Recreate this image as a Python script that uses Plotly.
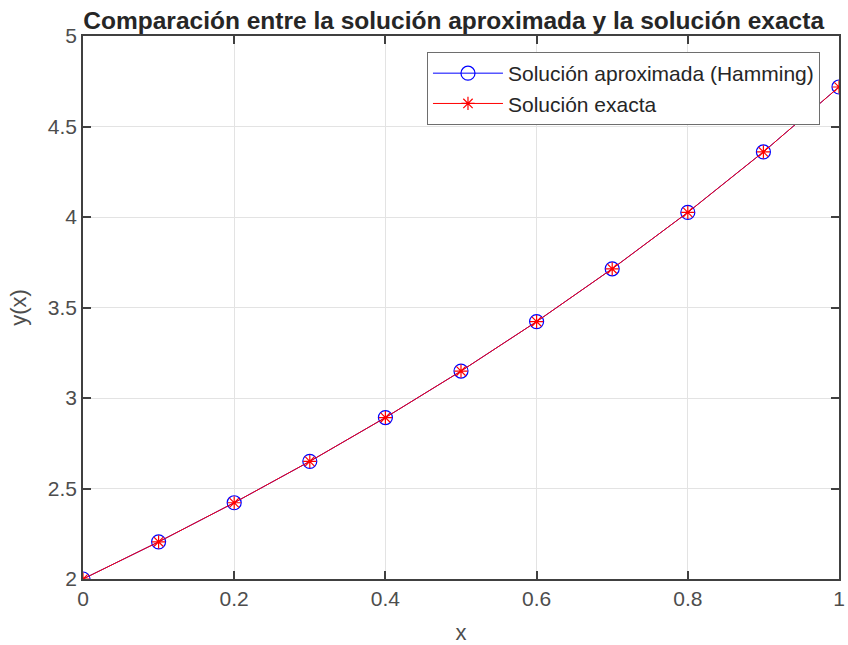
import plotly.graph_objects as go

x_vals = [0.0, 0.1, 0.2, 0.3, 0.4, 0.5, 0.6, 0.7, 0.8, 0.9, 1.0]
y_hamming = [2.0000, 2.2052, 2.4214, 2.6499, 2.8918, 3.1487, 3.4221, 3.7138, 4.0255, 4.3596, 4.7183]
y_exact = [2.0000, 2.2052, 2.4214, 2.6499, 2.8918, 3.1487, 3.4221, 3.7138, 4.0255, 4.3596, 4.7183]
x_ticks = [0, 0.2, 0.4, 0.6, 0.8, 1]
y_ticks = [2, 2.5, 3, 3.5, 4, 4.5, 5]

FONT = "Liberation Sans, Arial, Helvetica"

fig = go.Figure()
fig.add_trace(go.Scatter(
    x=x_vals, y=y_hamming, mode="lines+markers",
    name="Solución aproximada (Hamming)",
    line=dict(color="#0000ff", width=1),
    marker=dict(symbol="circle-open", size=14, color="#0000ff", line=dict(width=1.2)),
))
fig.add_trace(go.Scatter(
    x=x_vals, y=y_exact, mode="lines+markers",
    name="Solución exacta",
    line=dict(color="#ff0000", width=1),
    marker=dict(symbol="asterisk-open", size=11, color="#ff0000", line=dict(width=1.2, color="#ff0000")),
))

axis_common = dict(
    showline=True, linecolor="#404040", linewidth=1.5, mirror="ticks",
    ticks="inside", ticklen=8, tickcolor="#404040", tickwidth=1.5,
    showgrid=True, gridcolor="#e3e3e3", gridwidth=1, zeroline=False,
    tickfont=dict(family=FONT, size=21, color="#4d4d4d"),
)

fig.update_xaxes(range=[0, 1], tickvals=x_ticks, ticktext=[("%g" % t) for t in x_ticks],
                 title=dict(text="x", font=dict(family=FONT, size=22, color="#4d4d4d"), standoff=16),
                 **axis_common)
fig.update_yaxes(range=[2, 5], tickvals=y_ticks, ticktext=[("%g" % t) for t in y_ticks],
                 title=dict(text="y(x)", font=dict(family=FONT, size=22, color="#4d4d4d"), standoff=15),
                 **axis_common)

fig.update_layout(
    width=848, height=645,
    margin=dict(l=83, r=9, t=36, b=66, autoexpand=False),
    paper_bgcolor="white", plot_bgcolor="white",
    title=dict(text="<b>Comparación entre la solución aproximada y la solución exacta</b>",
               x=0.535, xanchor="center", y=0.969, yanchor="middle",
               font=dict(family=FONT, size=24.5, color="#262626")),
    legend=dict(x=0.455, y=0.9705, xanchor="left", yanchor="top",
                bgcolor="white", bordercolor="#6e6e6e", borderwidth=1,
                font=dict(family=FONT, size=21, color="#262626"),
                itemwidth=70, tracegroupgap=0),
    showlegend=True,
)

fig.write_html("out.html",
               config={"displayModeBar": False},
               post_script="document.body.style.margin='0';document.body.style.overflow='hidden';")
